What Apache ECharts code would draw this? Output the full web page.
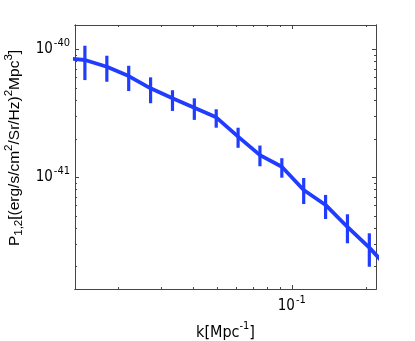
<!DOCTYPE html>
<html>
<head>
<meta charset="utf-8">
<script src="https://cdn.jsdelivr.net/npm/echarts@6/dist/echarts.min.js"></script>
<style>
  html, body { margin: 0; background: #fff; }
  #main { width: 415px; height: 341px; }
</style>
</head>
<body>
<div id="main"></div>
<script>
// k [Mpc^-1] (first and last points fall just outside the frame)
const kVals = [0.01204, 0.01474, 0.01806, 0.02211, 0.02707, 0.03315, 0.04058, 0.04969,
  0.06084, 0.07447, 0.09120, 0.11166, 0.13670, 0.16738, 0.20494, 0.25089]
// P_1,2
const power = [8.59e-41, 8.25e-41, 7.31e-41, 6.18e-41, 4.96e-41, 4.14e-41, 3.50e-41, 2.94e-41,
  2.08e-41, 1.49e-41, 1.21e-41, 7.96e-42, 6.08e-42, 4.09e-42, 2.82e-42, 1.84e-42]
// error bar ends
const errLow = [null, 5.75e-41, 5.58e-41, 4.72e-41, 3.79e-41, 3.30e-41, 2.81e-41, 2.44e-41,
  1.70e-41, 1.22e-41, 9.93e-42, 6.18e-42, 4.72e-42, 3.05e-42, 2.00e-42, null]
const errHigh = [null, 1.067e-40, 8.91e-41, 7.44e-41, 6.04e-41, 4.79e-41, 4.14e-41, 3.40e-41,
  2.44e-41, 1.77e-41, 1.41e-41, 9.87e-42, 7.28e-42, 5.14e-42, 3.65e-42, null]

// ticks
const xMajor = [0.1]
const xMinor = [0.02, 0.03, 0.04, 0.05, 0.06, 0.07, 0.08, 0.09, 0.2]
const yMajor = [1e-41, 1e-40]
const yMinor = [2e-42, 3e-42, 4e-42, 5e-42, 6e-42, 7e-42, 8e-42, 9e-42,
  2e-41, 3e-41, 4e-41, 5e-41, 6e-41, 7e-41, 8e-41, 9e-41]

const xRange = [0.01345, 0.218]
const yRange = [1.34e-42, 1.549e-40]

const BLUE = '#1f3cff'
const FRAME = '#444'
const FONT = '"Liberation Sans", Arial, sans-serif'
const NARROW = '"Liberation Sans Narrow", "Arial Narrow", "DejaVu Sans Condensed", sans-serif'
const lg = Math.log10

const gridRect = { left: 75, right: 39, top: 25, bottom: 52, outerBoundsMode: 'none' }

const powRich = {
  b: { fontSize: 15, fontFamily: NARROW, color: '#000' },
  s: { fontSize: 11, fontFamily: NARROW, color: '#000', padding: [0, 0, 12, 1] }
}
function powLabel (v) {
  return '{b|10}{s|-' + Math.abs(Math.round(v)) + '}'
}

function xAxisOf (gridIndex, position, ticks, len, withLabels) {
  return {
    type: 'value',
    gridIndex: gridIndex,
    position: position,
    min: lg(xRange[0]),
    max: lg(xRange[1]),
    axisLine: { show: true, lineStyle: { color: FRAME, width: 1 } },
    axisTick: { show: true, inside: true, length: len, customValues: ticks.map(lg), lineStyle: { color: FRAME } },
    axisLabel: withLabels
      ? { show: true, margin: 6, customValues: xMajor.map(lg), formatter: powLabel, rich: powRich }
      : { show: false },
    splitLine: { show: false }
  }
}
function yAxisOf (gridIndex, position, ticks, len, withLabels) {
  return {
    type: 'value',
    gridIndex: gridIndex,
    position: position,
    min: lg(yRange[0]),
    max: lg(yRange[1]),
    axisLine: { show: true, lineStyle: { color: FRAME, width: 1 } },
    axisTick: { show: true, inside: true, length: len, customValues: ticks.map(lg), lineStyle: { color: FRAME } },
    axisLabel: withLabels
      ? { show: true, margin: 5, customValues: yMajor.map(lg), formatter: powLabel, rich: powRich }
      : { show: false },
    splitLine: { show: false }
  }
}

const xAxes = [
  xAxisOf(0, 'bottom', xMajor, 4, true),
  xAxisOf(0, 'top', xMajor, 4, false),
  xAxisOf(1, 'bottom', xMinor, 2, false),
  xAxisOf(1, 'top', xMinor, 2, false)
]
xAxes[0].name = 'k[Mpc{s|-1}]'
xAxes[0].nameLocation = 'middle'
xAxes[0].nameGap = 32
xAxes[0].nameTextStyle = {
  fontSize: 16, fontFamily: NARROW, color: '#000',
  rich: { s: { fontSize: 11, fontFamily: NARROW, color: '#000', padding: [0, 0, 12, 0] } }
}

const yAxes = [
  yAxisOf(0, 'left', yMajor, 4, true),
  yAxisOf(0, 'right', yMajor, 4, false),
  yAxisOf(1, 'left', yMinor, 2, false),
  yAxisOf(1, 'right', yMinor, 2, false)
]
yAxes[0].name = 'P{sub|1,2}[(erg/s/cm{sup|2}/Sr/Hz){sup|2}Mpc{sup|3}]'
yAxes[0].nameLocation = 'middle'
yAxes[0].nameGap = 30
yAxes[0].nameTextStyle = {
  fontSize: 15.5, fontFamily: FONT, color: '#000',
  padding: [0, 0, 0, 18],
  rich: {
    sub: { fontSize: 11.5, fontFamily: FONT, color: '#000', padding: [8, 0, 0, 0] },
    sup: { fontSize: 11.5, fontFamily: FONT, color: '#000', padding: [0, 0, 12, 0] }
  }
}

const lineData = kVals.map((k, i) => [lg(k), lg(power[i])])
const barData = []
kVals.forEach((k, i) => {
  if (errLow[i] != null) barData.push([lg(k), lg(errLow[i]), lg(errHigh[i])])
})

const chart = echarts.init(document.getElementById('main'))
chart.setOption({
  animation: false,
  backgroundColor: '#fff',
  grid: [Object.assign({}, gridRect), Object.assign({}, gridRect)],
  xAxis: xAxes,
  yAxis: yAxes,
  series: [{
    type: 'line',
    xAxisIndex: 0,
    yAxisIndex: 0,
    data: lineData,
    symbol: 'none',
    clip: true,
    lineStyle: { color: BLUE, width: 3.8 }
  }, {
    type: 'custom',
    xAxisIndex: 0,
    yAxisIndex: 0,
    data: barData,
    encode: { x: 0, y: [1, 2] },
    renderItem: function (params, api) {
      const lo = api.coord([api.value(0), api.value(1)])
      const hi = api.coord([api.value(0), api.value(2)])
      return {
        type: 'line',
        shape: { x1: lo[0], y1: lo[1], x2: hi[0], y2: hi[1] },
        style: { stroke: BLUE, lineWidth: 3.2 }
      }
    }
  }]
})
</script>
</body>
</html>
